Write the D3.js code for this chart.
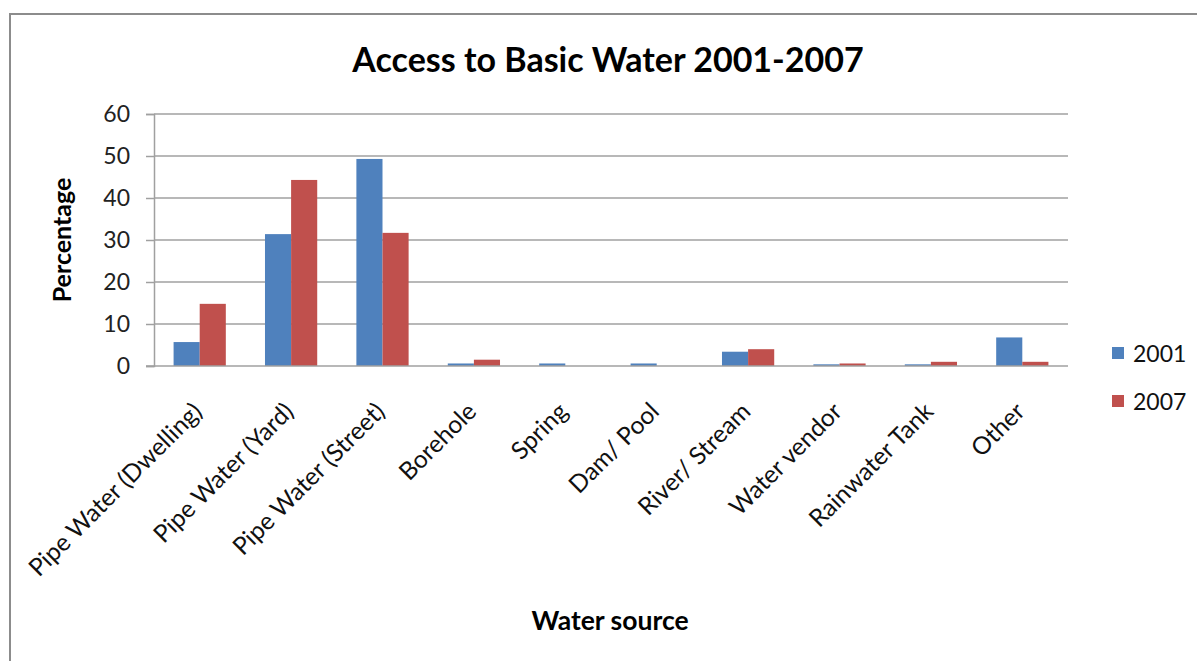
<!DOCTYPE html>
<html>
<head>
<meta charset="utf-8">
<script src="https://cdn.jsdelivr.net/npm/d3@7/dist/d3.min.js"></script>
<style>
  html, body { margin: 0; padding: 0; background: #fff; }
  svg { display: block; font-family: Lato, "Open Sans", sans-serif; }
</style>
</head>
<body>
<svg id="chart" width="1197" height="661"></svg>
<script>
// Water source categories and share of households (%) per survey year
const categories = ["Pipe Water (Dwelling)", "Pipe Water (Yard)", "Pipe Water (Street)", "Borehole",
  "Spring", "Dam/ Pool", "River/ Stream", "Water vendor", "Rainwater Tank", "Other"];
const values2001 = [5.7, 31.4, 49.3, 0.6, 0.6, 0.6, 3.4, 0.4, 0.4, 6.8];
const values2007 = [14.8, 44.3, 31.7, 1.5, 0, 0, 4.0, 0.6, 1.0, 1.0];
const seriesNames = ["2001", "2007"];
const seriesColors = ["#4F81BD", "#C0504D"];
const yTicks = [0, 10, 20, 30, 40, 50, 60];

const svg = d3.select("#chart");

// outer chart frame
svg.append("rect")
  .attr("x", 10).attr("y", 14).attr("width", 1200).attr("height", 700)
  .attr("fill", "none").attr("stroke", "#8c8c8c").attr("stroke-width", 2);

const plot = { left: 154, right: 1068, top: 114, bottom: 366 };

const x0 = d3.scaleBand().domain(categories).range([plot.left, plot.right]).paddingInner(0).paddingOuter(0);
const groupWidth = x0.bandwidth() * 2 / 3.5;
const x1 = d3.scaleBand().domain(seriesNames).range([0, groupWidth]);
const y = d3.scaleLinear().domain([0, 60]).range([plot.bottom, plot.top]);

// horizontal gridlines
svg.append("g").selectAll("line").data(yTicks.filter(d => d > 0)).join("line")
  .attr("x1", plot.left).attr("x2", plot.right)
  .attr("y1", d => y(d)).attr("y2", d => y(d))
  .attr("stroke", "#a0a0a0").attr("stroke-width", 1.5);

// y axis
const yAxis = d3.axisLeft(y).tickValues(yTicks).tickSize(8).tickPadding(16);
const gy = svg.append("g").attr("transform", `translate(${plot.left},0)`).call(yAxis);
gy.select(".domain").attr("stroke", "#a0a0a0").attr("stroke-width", 1.5);
gy.selectAll(".tick line").attr("stroke", "#a0a0a0").attr("stroke-width", 1.5);
gy.selectAll(".tick text").attr("font-size", 23).attr("fill", "#222").attr("font-family", "Lato, sans-serif");

// bars
const rows = categories.map((c, i) => ({ cat: c, vals: [values2001[i], values2007[i]] }));
const groups = svg.append("g").selectAll("g").data(rows).join("g")
  .attr("transform", d => `translate(${x0(d.cat) + (x0.bandwidth() - groupWidth) / 2},0)`);
groups.selectAll("rect").data(d => d.vals.map((v, j) => ({ v, s: seriesNames[j], c: seriesColors[j] })))
  .join("rect")
  .attr("x", d => x1(d.s))
  .attr("width", x1.bandwidth())
  .attr("y", d => y(d.v))
  .attr("height", d => y(0) - y(d.v))
  .attr("fill", d => d.c);

// x axis baseline
svg.append("line")
  .attr("x1", plot.left - 8).attr("x2", plot.right)
  .attr("y1", y(0)).attr("y2", y(0))
  .attr("stroke", "#a0a0a0").attr("stroke-width", 1.5);

// rotated category labels
svg.append("g").selectAll("text").data(categories).join("text")
  .attr("transform", d => `translate(${x0(d) + x0.bandwidth() / 2 + 4},${y(0) + 47}) rotate(-45)`)
  .attr("text-anchor", "end")
  .attr("font-size", 24.5)
  .attr("fill", "#111")
  .text(d => d);

// title
svg.append("text")
  .attr("x", 608).attr("y", 72)
  .attr("text-anchor", "middle")
  .attr("font-size", 34).attr("font-weight", "bold").attr("fill", "#000")
  .text("Access to Basic Water 2001-2007");

// axis titles
svg.append("text")
  .attr("transform", `translate(71,240) rotate(-90)`)
  .attr("text-anchor", "middle")
  .attr("font-size", 25).attr("font-weight", "bold").attr("fill", "#000")
  .text("Percentage");

svg.append("text")
  .attr("x", 610).attr("y", 630)
  .attr("text-anchor", "middle")
  .attr("font-size", 26.5).attr("font-weight", "bold").attr("fill", "#000")
  .text("Water source");

// legend
const legend = svg.append("g").selectAll("g").data(seriesNames).join("g")
  .attr("transform", (d, i) => `translate(1112,${347 + i * 48})`);
legend.append("rect").attr("width", 12).attr("height", 12).attr("fill", (d, i) => seriesColors[i]);
legend.append("text").attr("x", 21).attr("y", 15)
  .attr("font-size", 23).attr("fill", "#111").text(d => d);
</script>
</body>
</html>
